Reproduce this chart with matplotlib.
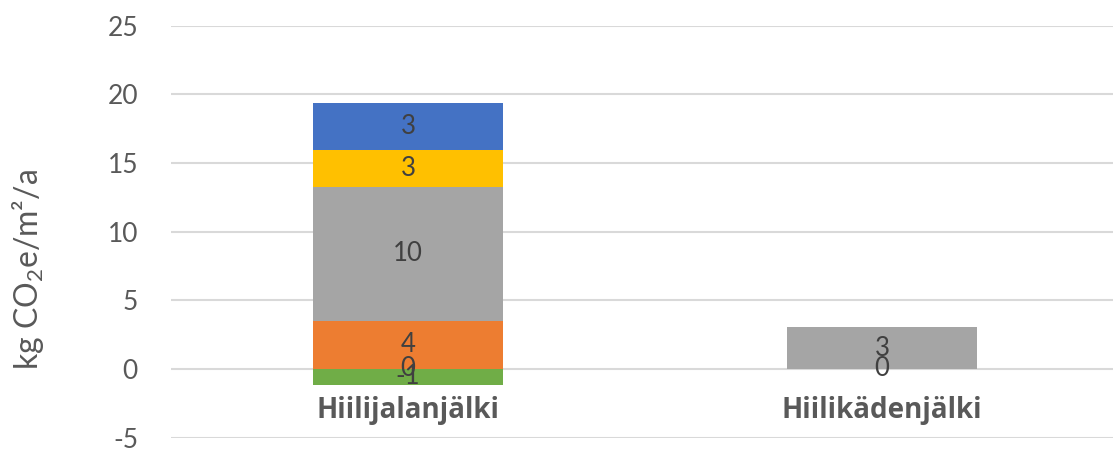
import numpy as np
import matplotlib
matplotlib.use("Agg")
import matplotlib.pyplot as plt

plt.rcParams["font.family"] = ["Lato", "DejaVu Sans"]
plt.rcParams["mathtext.fontset"] = "custom"
plt.rcParams["mathtext.rm"] = "Lato"
plt.rcParams["mathtext.it"] = "Lato"

categories = ["Hiilijalanjälki", "Hiilikädenjälki"]
series_colors = ["#70AD47", "#5B9BD5", "#ED7D31", "#A5A5A5", "#FFC000", "#4472C4"]
green_vals = [-1.14, np.nan]
zero_vals = [0.0, 0.0]
orange_vals = [3.52, np.nan]
gray_vals = [9.74, 3.04]
yellow_vals = [2.69, np.nan]
blue_vals = [3.42, np.nan]
series = [green_vals, zero_vals, orange_vals, gray_vals, yellow_vals, blue_vals]
y_ticks = [-5, 0, 5, 10, 15, 20, 25]

W, H = 1113, 450
fig = plt.figure(figsize=(W / 100, H / 100), dpi=100)
ax = fig.add_axes([171 / W, (H - 437.5) / H, 948 / W, (437.5 - 25.7) / H])

x = np.arange(len(categories))
pos_base = np.zeros(len(categories))
neg_base = np.zeros(len(categories))
label_color = "#404040"
for vals, color in zip(series, series_colors):
    for i, v in enumerate(vals):
        if np.isnan(v):
            continue
        if v >= 0:
            bottom = pos_base[i]
            pos_base[i] += v
        else:
            bottom = neg_base[i]
            neg_base[i] += v
        ax.bar(x[i], v, bottom=bottom, width=0.4, color=color, zorder=2)
        ax.text(x[i], bottom + v / 2, f"{round(v):.0f}", ha="center", va="center",
                fontsize=18.5, color=label_color, zorder=3)

ax.set_xlim(-0.5, 1.5)
ax.set_ylim(-5, 25)
ax.set_yticks(y_ticks)
ax.set_yticklabels([str(t) for t in y_ticks])
ax.grid(axis="y", color="#D9D9D9", linewidth=1.5, zorder=0)
ax.set_axisbelow(True)
for s in ax.spines.values():
    s.set_visible(False)
ax.tick_params(axis="y", length=0, pad=23.8, labelsize=19, labelcolor="#595959")
ax.tick_params(axis="x", length=0)
ax.set_xticks([])

for i, name in enumerate(categories):
    ax.text(x[i], -3.05, name, ha="center", va="center", fontsize=20,
            fontweight="bold", color="#595959", family=["Open Sans", "DejaVu Sans"])

fig.text(28 / W, (H - 270) / H, r"kg CO$_2$e/m²/a", rotation=90, ha="center",
         va="center", fontsize=23, color="#595959")

fig.savefig("out.png", dpi=100)
